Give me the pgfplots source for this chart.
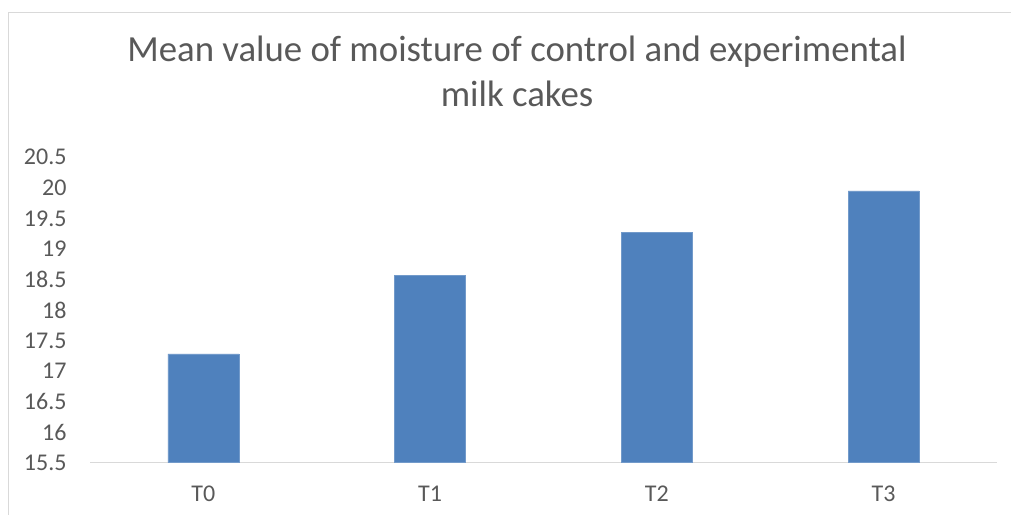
\documentclass[border=0pt]{standalone}
\usepackage{fontspec}
\setmainfont{Carlito}
\usepackage{pgfplots}
\pgfplotsset{compat=1.18}
\definecolor{barblue}{HTML}{4F81BD}
\definecolor{txtgray}{HTML}{595959}
\definecolor{linegray}{HTML}{D9D9D9}

\begin{document}
\begin{tikzpicture}
% chart area frame (as in the screenshot, cut at right and bottom)
\path[use as bounding box] (0,0) rectangle (1011bp,515bp);
\draw[linegray, line width=1.5bp] (8.3bp,0) -- (8.3bp,502.7bp) -- (1011bp,502.7bp);

\begin{axis}[
    at={(90bp,52.3bp)},
    anchor=south west,
    scale only axis,
    width=907bp,
    height=305.4bp,
    ybar,
    bar width=71bp,
    xmin=-0.5, xmax=3.5,
    ymin=15.5, ymax=20.5,
    xtick=data,
    xticklabels={T0,T1,T2,T3},
    ytick={15.5,16,16.5,17,17.5,18,18.5,19,19.5,20,20.5},
    major tick length=0pt,
    axis x line*=bottom,
    axis y line*=left,
    x axis line style={draw=linegray, line width=1.5bp, -},
    y axis line style={draw=none},
    /pgf/number format/assume math mode=true,
    /pgf/number format/fixed,
    ticklabel style={font=\fontsize{24bp}{28bp}\selectfont, text=txtgray},
    yticklabel style={anchor=east, inner sep=0pt, xshift=-23.3bp},
    xticklabel style={anchor=north, inner sep=0pt, yshift=-23.3bp},
    title={Mean value of moisture of control and experimental\\milk cakes},
    title style={align=center, anchor=base, inner sep=0pt,
        at={(axis description cs:0.4708,1.1483)},
        font=\fontsize{36.8bp}{44.5bp}\selectfont, text=txtgray},
    clip=true,
]
\addplot[fill=barblue, draw=barblue!80!white, line width=0.6bp]
  coordinates {(0,17.28) (1,18.56) (2,19.27) (3,19.95)};
\end{axis}
\end{tikzpicture}
\end{document}
